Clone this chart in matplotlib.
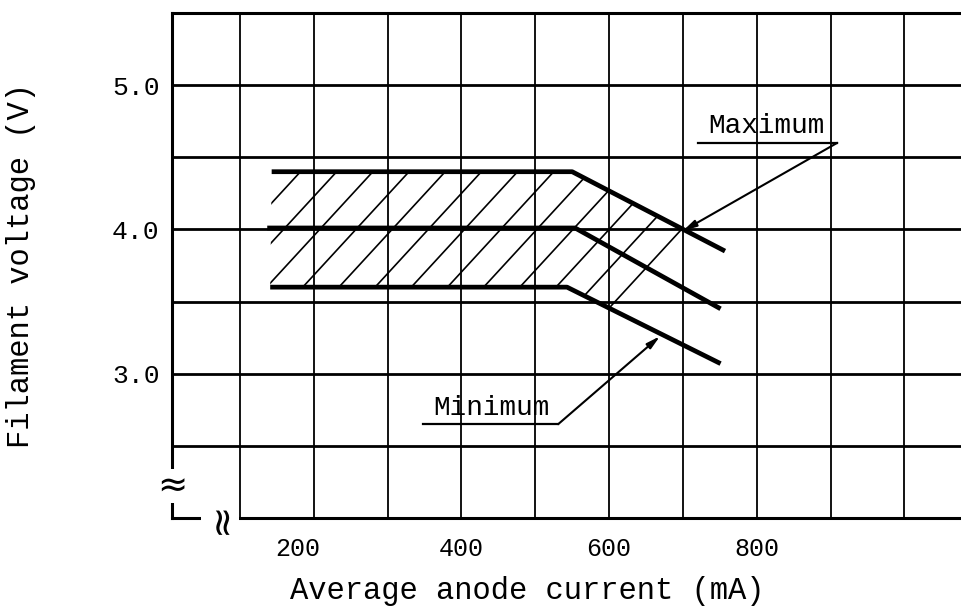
import matplotlib
matplotlib.use("Agg")
import matplotlib.pyplot as plt
import matplotlib.transforms as mtransforms
import numpy as np
from matplotlib.patches import Polygon

# Datenkurven (Filament voltage vs. average anode current)
current_max = [143, 550, 757]
volt_max = [4.40, 4.40, 3.85]
current_nom = [137, 554, 751]
volt_nom = [4.01, 4.01, 3.45]
current_min = [141, 543, 751]
volt_min = [3.60, 3.60, 3.07]

x_ticks = [200, 400, 600, 800]
x_tick_labels = ["200", "400", "600", "800"]
y_ticks = [3.0, 4.0, 5.0]
y_tick_labels = ["3.0", "4.0", "5.0"]
x_grid = [100, 200, 300, 400, 500, 600, 700, 800, 900, 1000]
y_grid = [2.5, 3.0, 3.5, 4.0, 4.5, 5.0]

plt.rcParams['font.family'] = ['Liberation Mono', 'DejaVu Sans Mono']

fig = plt.figure(figsize=(9.62, 6.07), dpi=100)
ax = fig.add_axes([172 / 962, 89 / 607, 790 / 962, 505 / 607])
ax.set_xlim(8, 1078)
ax.set_ylim(2.0, 5.5)

# Gitter
for xv in x_grid:
    ax.axvline(xv, color='black', lw=1.3, zorder=1)
for yv in y_grid:
    ax.axhline(yv, color='black', lw=2.0, zorder=1)

ax.spines['right'].set_visible(False)
for s in ['left', 'top', 'bottom']:
    ax.spines[s].set_linewidth(2.2)

# Schraffur zwischen Max und Min
region = Polygon(list(zip(current_max, volt_max)) + list(zip(current_min, volt_min))[::-1],
                 closed=True, facecolor='none', edgecolor='none')
ax.add_patch(region)
slope = 0.00556
for x0 in np.arange(182 - 49 * 12, 800, 49):
    hx = np.array([x0 - 200, x0 + 200])
    hy = 4.40 + slope * (hx - x0)
    ln, = ax.plot(hx, hy, color='black', lw=1.2, zorder=2)
    ln.set_clip_path(region)

# Kurven
for cx, cy in [(current_max, volt_max), (current_nom, volt_nom), (current_min, volt_min)]:
    ax.plot(cx, cy, color='black', lw=3.4, solid_capstyle='butt', zorder=3)

# Beschriftungen
ax.text(813, 4.625, "Maximum", ha='center', va='bottom', fontsize=20)
ax.plot([720, 909], [4.60, 4.60], color='black', lw=1.6)
ax.annotate("", xy=(700, 3.99), xytext=(909, 4.60),
            arrowprops=dict(arrowstyle='-|>,head_length=0.8,head_width=0.2',
                            color='black', lw=1.5, shrinkA=0, shrinkB=0))

ax.text(440, 2.675, "Minimum", ha='center', va='bottom', fontsize=20)
ax.plot([348, 531], [2.65, 2.65], color='black', lw=1.6)
ax.annotate("", xy=(669, 3.26), xytext=(531, 2.65),
            arrowprops=dict(arrowstyle='-|>,head_length=0.8,head_width=0.2',
                            color='black', lw=1.5, shrinkA=0, shrinkB=0))

# Achsen
ax.set_xticks(x_ticks)
ax.set_xticklabels(x_tick_labels, fontsize=18)
ax.set_yticks(y_ticks)
ax.set_yticklabels(y_tick_labels, fontsize=19)
ax.tick_params(axis='x', length=0, pad=14)
ax.tick_params(axis='y', length=0, pad=9)

# "200" steht im Original etwas links von der Gitterlinie
lbl = ax.get_xticklabels()[0]
lbl.set_transform(lbl.get_transform() + mtransforms.ScaledTranslation(-0.16, 0, fig.dpi_scale_trans))

ax.set_xlabel("Average anode current (mA)", fontsize=22)
ax.xaxis.set_label_coords(0.45, -0.115)
ax.set_ylabel("Filament voltage (V)", fontsize=22)
ax.yaxis.set_label_coords(-0.172, 0.5)

# Achsenbrueche
ax.text(8, 2.22, "≈", fontsize=26, family='DejaVu Sans', ha='center', va='center',
        bbox=dict(facecolor='white', edgecolor='none', pad=0), clip_on=False, zorder=5)
ax.text(73, 2.0, "≈", fontsize=28, family='DejaVu Sans', ha='center', va='center', rotation=90,
        bbox=dict(facecolor='white', edgecolor='none', pad=0), clip_on=False, zorder=5)

fig.savefig("out.png", dpi=100)
